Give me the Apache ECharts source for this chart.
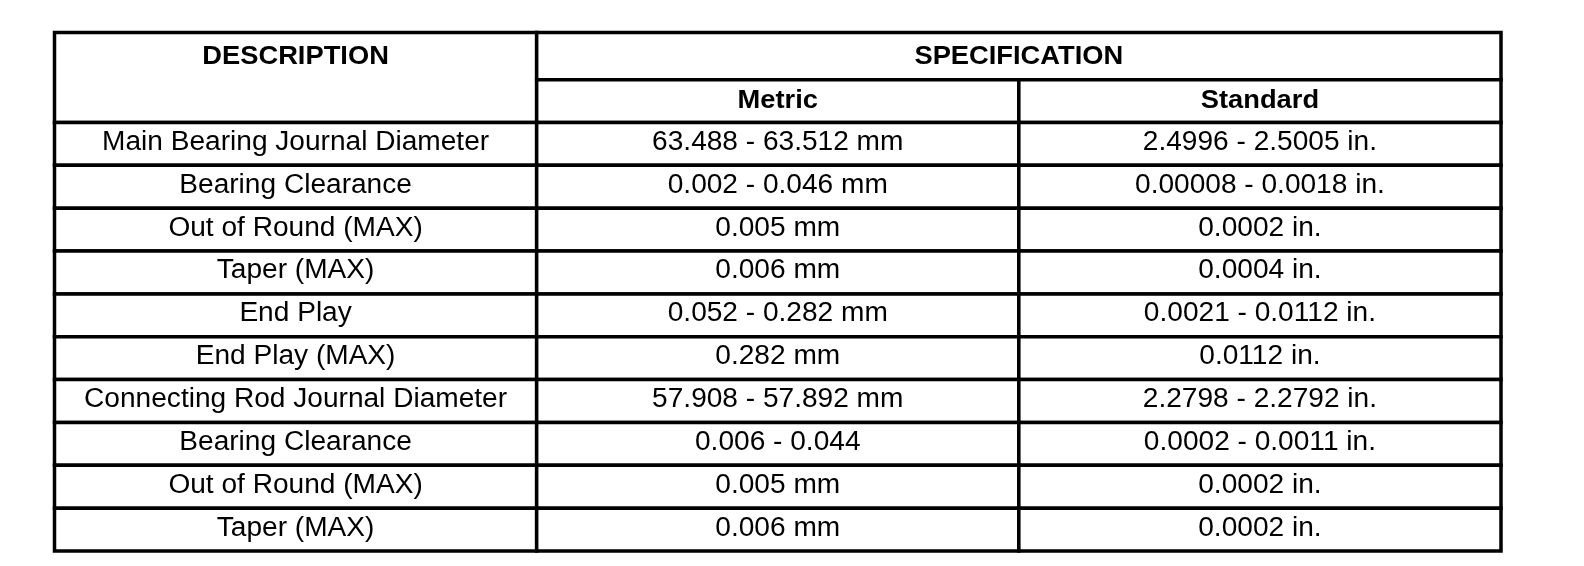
<!DOCTYPE html>
<html>
<head>
<meta charset="utf-8">
<script src="https://cdn.jsdelivr.net/npm/echarts@6/dist/echarts.min.js"></script>
<style>
html,body{margin:0;padding:0;background:#fff;}
#chart{width:1584px;height:566px;}
</style>
</head>
<body>
<div id="chart"></div>
<script>
// ---- data ----
var headerTitles = ['DESCRIPTION', 'SPECIFICATION'];
var subHeaders = ['Metric', 'Standard'];
var descriptions = [
  'Main Bearing Journal Diameter',
  'Bearing Clearance',
  'Out of Round (MAX)',
  'Taper (MAX)',
  'End Play',
  'End Play (MAX)',
  'Connecting Rod Journal Diameter',
  'Bearing Clearance',
  'Out of Round (MAX)',
  'Taper (MAX)'
];
var metricValues = [
  '63.488 - 63.512 mm',
  '0.002 - 0.046 mm',
  '0.005 mm',
  '0.006 mm',
  '0.052 - 0.282 mm',
  '0.282 mm',
  '57.908 - 57.892 mm',
  '0.006 - 0.044',
  '0.005 mm',
  '0.006 mm'
];
var standardValues = [
  '2.4996 - 2.5005 in.',
  '0.00008 - 0.0018 in.',
  '0.0002 in.',
  '0.0004 in.',
  '0.0021 - 0.0112 in.',
  '0.0112 in.',
  '2.2798 - 2.2792 in.',
  '0.0002 - 0.0011 in.',
  '0.0002 in.',
  '0.0002 in.'
];

// ---- layout (row units) ----
var topHeaderH = 1.1;
var subHeaderH = 1.0;
var bodyStart = topHeaderH + subHeaderH;
var totalRows = bodyStart + descriptions.length;

var cells = [];
var cellInfo = [];
function addCell(c0, c1, r0, r1, text, bold, textR0, textR1, dy) {
  cells.push([c0, c1, r0, r1]);
  cellInfo.push({text: text, bold: bold, tr0: textR0, tr1: textR1, dy: dy});
}
addCell(0, 1, 0, bodyStart, headerTitles[0], true, 0, topHeaderH, 1);
addCell(1, 3, 0, topHeaderH, headerTitles[1], true, 0, topHeaderH, 1);
addCell(1, 2, topHeaderH, bodyStart, subHeaders[0], true, topHeaderH, bodyStart, 0);
addCell(2, 3, topHeaderH, bodyStart, subHeaders[1], true, topHeaderH, bodyStart, 0);
var cols = [descriptions, metricValues, standardValues];
for (var i = 0; i < descriptions.length; i++) {
  for (var c = 0; c < 3; c++) {
    addCell(c, c + 1, bodyStart + i, bodyStart + i + 1, cols[c][i], false, bodyStart + i, bodyStart + i + 1, -1.5);
  }
}

var chart = echarts.init(document.getElementById('chart'), null, {renderer: 'canvas'});
chart.setOption({
  animation: false,
  backgroundColor: '#ffffff',
  grid: {left: 54.5, right: 83, top: 32.5, bottom: 15},
  xAxis: {type: 'value', min: 0, max: 3, show: false},
  yAxis: {type: 'value', min: 0, max: totalRows, inverse: true, show: false},
  series: [{
    type: 'custom',
    clip: false,
    coordinateSystem: 'cartesian2d',
    encode: {x: [0, 1], y: [2, 3]},
    data: cells,
    renderItem: function (params, api) {
      var info = cellInfo[params.dataIndex];
      var p0 = api.coord([api.value(0), api.value(2)]);
      var p1 = api.coord([api.value(1), api.value(3)]);
      var t0 = api.coord([api.value(0), info.tr0]);
      var t1 = api.coord([api.value(1), info.tr1]);
      var cx = (t0[0] + t1[0]) / 2;
      var cy = (t0[1] + t1[1]) / 2 + info.dy;
      return {
        type: 'group',
        children: [
          {
            type: 'rect',
            shape: {x: p0[0], y: p0[1], width: p1[0] - p0[0], height: p1[1] - p0[1]},
            style: {fill: '#ffffff', stroke: '#000000', lineWidth: 3.5}
          },
          {
            type: 'text',
            x: cx,
            y: cy,
            scaleX: info.bold ? 1.05 : 1.04,
            z2: 10,
            style: {
              text: info.text,
              x: 0,
              y: 0,
              fill: '#000000',
              fontFamily: '"Liberation Sans", Arial, Helvetica, sans-serif',
              fontSize: info.bold ? 26 : 27,
              fontWeight: info.bold ? 'bold' : 'normal',
              align: 'center',
              verticalAlign: 'middle',
              textAlign: 'center',
              textVerticalAlign: 'middle'
            }
          }
        ]
      };
    }
  }]
});
</script>
</body>
</html>
